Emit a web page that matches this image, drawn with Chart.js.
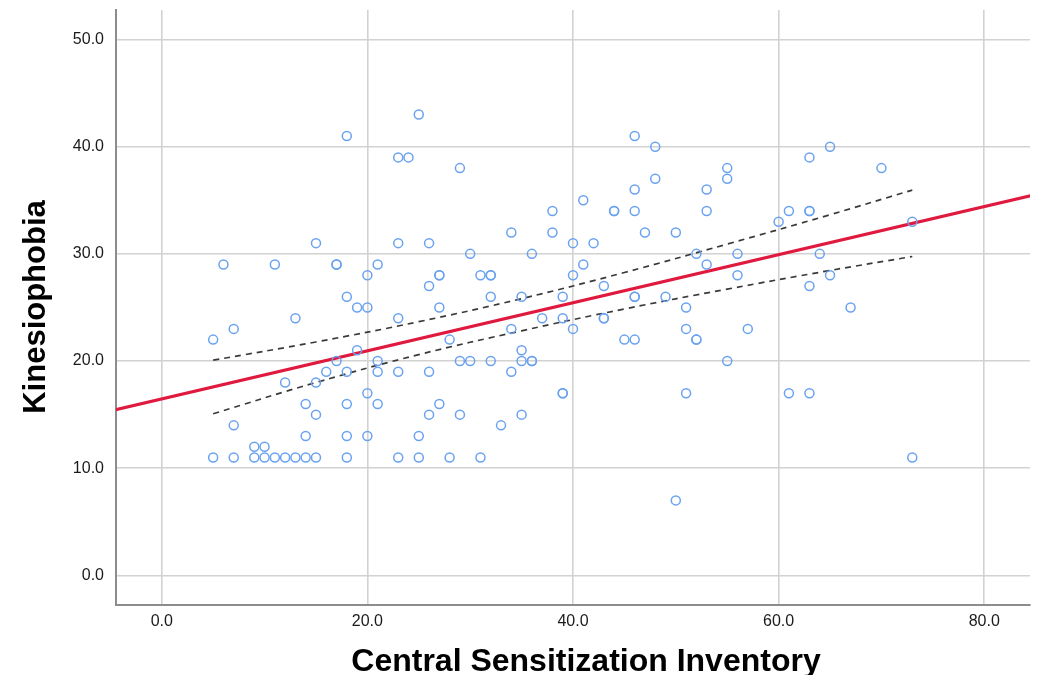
<!DOCTYPE html>
<html>
<head>
<meta charset="utf-8">
<script src="https://cdn.jsdelivr.net/npm/chart.js@4.4.1/dist/chart.umd.min.js"></script>
<style>
html,body{margin:0;padding:0;background:#fff;}
#wrap{width:1037px;height:675px;position:relative;}
</style>
</head>
<body>
<div id="wrap"><canvas id="c" width="1037" height="675"></canvas></div>
<script>
// Central Sensitization Inventory (x) values of each subject
const csi = [25, 18,46, 48,65, 23,24,63, 29,55,70, 48,55, 46,53, 41,
  38,44,44,46,53,61,63,63, 60,73, 34,38,47,50, 15,23,26,40,42, 30,36,52,56,64,
  6,11,17,17,21,41,53, 20,27,27,31,32,32,40,56,65, 26,43,63, 18,32,35,39,46,46,49,
  19,20,27,51,67, 13,23,37,39,43,43, 7,34,40,51,57, 5,28,45,46,52,52, 19,35,
  17,21,29,30,32,35,36,36,55, 16,18,21,23,26,34, 12,15, 20,39,39,51,61,63,
  14,18,21,27, 15,26,29,35, 7,33, 14,18,20,25, 9,10,
  5,7,9,10,11,12,13,14,15,18,23,25,28,31,73, 50];
// Kinesiophobia (y) values, same order
const kin = [43, 41,41, 40,40, 39,39,39, 38,38,38, 37,37, 36,36, 35,
  34,34,34,34,34,34,34,34, 33,33, 32,32,32,32, 31,31,31,31,31, 30,30,30,30,30,
  29,29,29,29,29,29,29, 28,28,28,28,28,28,28,28,28, 27,27,27, 26,26,26,26,26,26,26,
  25,25,25,25,25, 24,24,24,24,24,24, 23,23,23,23,23, 22,22,22,22,22,22, 21,21,
  20,20,20,20,20,20,20,20,20, 19,19,19,19,19,19, 18,18, 17,17,17,17,17,17,
  16,16,16,16, 15,15,15,15, 14,14, 13,13,13,13, 12,12,
  11,11,11,11,11,11,11,11,11,11,11,11,11,11,11, 7];

// Fit line
const fitX = [-5, 85];
const fitY = [15.34, 35.54];

// Mean confidence band
const bandX = [5, 15, 25, 35, 45, 55, 65, 73];
const bandUpper = [20.08, 21.78, 23.67, 25.82, 28.26, 30.91, 33.65, 35.95];
const bandLower = [15.08, 18.0, 20.6, 22.82, 24.86, 26.71, 28.45, 29.75];

const xTicks = [0, 20, 40, 60, 80];
const yTicks = [0, 10, 20, 30, 40, 50];

const xTitle = 'Central Sensitization Inventory';
const yTitle = 'Kinesiophobia';

const FONT = '"Liberation Sans", Arial, Helvetica, sans-serif';

const toPts = (xs, ys) => xs.map((x, i) => ({x: x, y: ys[i]}));

const titlePlugin = {
  id: 'axisTitles',
  afterDraw(chart) {
    const ctx = chart.ctx;
    ctx.save();
    ctx.fillStyle = '#000';
    ctx.font = 'bold 32px ' + FONT;
    ctx.textAlign = 'center';
    ctx.textBaseline = 'alphabetic';
    ctx.fillText(xTitle, 586, 671);
    ctx.translate(45, 307);
    ctx.rotate(-Math.PI / 2);
    ctx.font = 'bold 31px ' + FONT;
    ctx.fillText(yTitle, 0, 0);
    ctx.restore();
  }
};

new Chart(document.getElementById('c'), {
  type: 'scatter',
  data: {
    datasets: [
      {
        label: 'Subjects',
        data: toPts(csi, kin),
        showLine: false,
        pointStyle: 'circle',
        pointRadius: 4.5,
        pointBorderWidth: 1.5,
        pointBackgroundColor: 'rgba(0,0,0,0)',
        pointBorderColor: '#6aa2f0'
      },
      {
        label: 'Fit',
        data: toPts(fitX, fitY),
        showLine: true,
        borderColor: '#e0193f',
        borderWidth: 3.2,
        pointRadius: 0,
        fill: false
      },
      {
        label: 'Upper',
        data: toPts(bandX, bandUpper),
        showLine: true,
        borderColor: '#3a3a3a',
        borderWidth: 1.7,
        borderDash: [6, 5],
        pointRadius: 0,
        tension: 0.4,
        fill: false
      },
      {
        label: 'Lower',
        data: toPts(bandX, bandLower),
        showLine: true,
        borderColor: '#3a3a3a',
        borderWidth: 1.7,
        borderDash: [6, 5],
        pointRadius: 0,
        tension: 0.4,
        fill: false
      }
    ]
  },
  options: {
    responsive: false,
    animation: false,
    events: [],
    layout: {padding: {top: 10, right: 7, left: 0, bottom: 0}},
    plugins: {legend: {display: false}, tooltip: {enabled: false}},
    scales: {
      x: {
        type: 'linear',
        min: -4.45,
        max: 84.45,
        afterBuildTicks: s => { s.ticks = xTicks.map(v => ({value: v})); },
        afterFit: s => { s.height = 70; s.paddingLeft = 0; s.paddingRight = 0; },
        grid: {color: '#d2d2d2', lineWidth: 1.6, drawTicks: false},
        border: {display: true, color: '#8c8c8c', width: 2},
        ticks: {
          padding: 7,
          color: '#1a1a1a',
          font: {family: FONT, size: 16},
          callback: v => Number(v).toFixed(1)
        },
        title: {display: false}
      },
      y: {
        type: 'linear',
        min: -2.76,
        max: 52.75,
        afterBuildTicks: s => { s.ticks = yTicks.map(v => ({value: v})); },
        afterFit: s => { s.width = 116; s.paddingTop = 0; s.paddingBottom = 0; },
        grid: {color: '#d2d2d2', lineWidth: 1.6, drawTicks: false},
        border: {display: true, color: '#8c8c8c', width: 2},
        ticks: {
          padding: 12,
          color: '#1a1a1a',
          font: {family: FONT, size: 16},
          callback: v => Number(v).toFixed(1)
        },
        title: {display: false}
      }
    }
  },
  plugins: [titlePlugin]
});
</script>
</body>
</html>
